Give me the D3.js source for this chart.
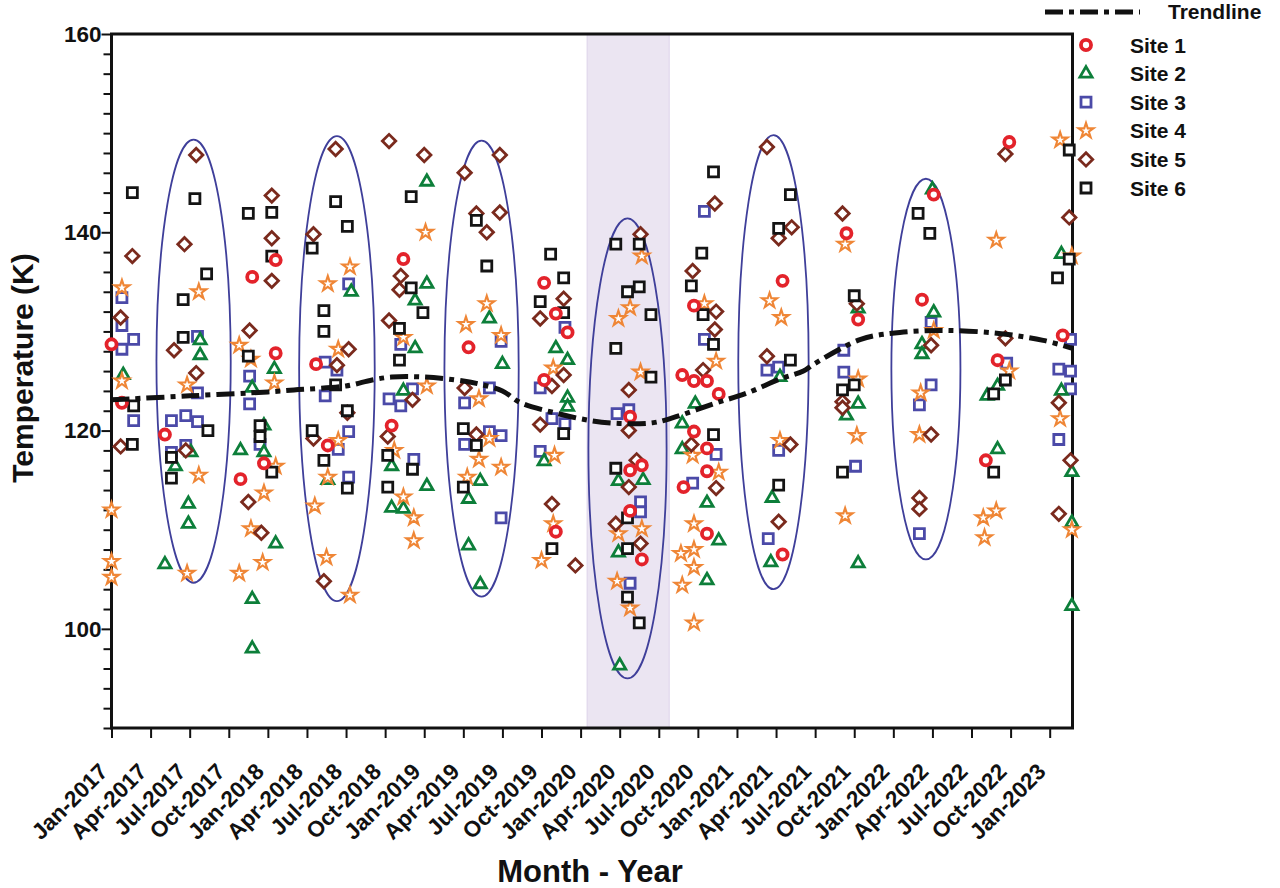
<!DOCTYPE html>
<html><head><meta charset="utf-8">
<script src="https://cdn.jsdelivr.net/npm/d3@7"></script>
<style>body{margin:0;background:#fff}svg{display:block;font-family:"Liberation Sans",Arial,sans-serif}</style>
</head><body><svg id="c" width="1280" height="888"></svg>
<script>
const tickLabels = ["Jan-2017","Apr-2017","Jul-2017","Oct-2017","Jan-2018","Apr-2018","Jul-2018","Oct-2018","Jan-2019","Apr-2019","Jul-2019","Oct-2019","Jan-2020","Apr-2020","Jul-2020","Oct-2020","Jan-2021","Apr-2021","Jul-2021","Oct-2021","Jan-2022","Apr-2022","Jul-2022","Oct-2022","Jan-2023"];
const yTickLabels = [100,120,140,160];
const seriesNames = ["Site 1","Site 2","Site 3","Site 4","Site 5","Site 6"];
// [month index since Jan-2017, temperature K]
const site1 = [[0,128.7],[0.8,122.8],[4.1,119.6],[9.9,115.1],[10.8,135.5],[11.7,116.7],[12.6,137.2],[12.6,127.8],[15.7,126.7],[16.6,118.5],[21.5,120.5],[22.4,137.3],[27.4,128.4],[33.2,134.9],[34.1,131.8],[35.0,129.9],[33.2,125.1],[34.1,109.8],[39.8,121.4],[39.8,116.0],[40.7,116.5],[39.8,111.9],[40.7,107.0],[43.8,125.6],[44.7,132.6],[44.7,125.0],[45.7,125.0],[46.6,123.7],[44.7,119.9],[45.7,118.2],[45.7,115.9],[43.9,114.3],[45.7,109.6],[51.5,135.1],[51.5,107.5],[56.4,139.9],[57.3,131.2],[62.2,133.2],[63.1,143.8],[67.1,117.0],[68.0,127.1],[68.9,149.1],[73.0,129.6]];
const site2 = [[0.9,125.6],[6.8,129.1],[6.8,127.6],[12.5,126.2],[10.8,124.3],[11.7,120.5],[6.1,117.8],[4.9,116.4],[9.9,118.0],[11.7,117.8],[5.9,112.6],[5.9,110.6],[12.6,108.6],[4.1,106.5],[10.8,103.0],[10.8,98.0],[18.4,134.0],[24.2,145.1],[24.2,134.8],[23.3,133.1],[29.0,131.3],[23.3,128.3],[22.4,124.0],[16.6,115.0],[21.5,116.4],[24.2,114.4],[21.5,112.2],[22.4,112.1],[28.3,114.9],[27.4,113.1],[27.4,108.4],[28.3,104.5],[30.0,126.7],[35.0,123.3],[35.0,122.4],[34.1,128.3],[35.0,127.1],[33.2,116.9],[38.9,114.9],[40.8,115.0],[38.9,107.7],[39.0,96.3],[44.8,122.7],[43.8,120.7],[43.8,118.1],[45.7,112.7],[46.6,108.9],[45.7,104.9],[51.3,125.4],[50.7,113.2],[50.6,106.7],[57.3,122.7],[56.4,121.5],[57.3,132.3],[57.3,106.6],[63.1,131.9],[62.2,128.7],[62.2,127.7],[63.0,144.3],[68.0,124.5],[67.2,123.5],[68.0,118.1],[72.9,137.8],[72.9,124.0],[73.7,115.8],[73.7,110.7],[73.7,102.3]];
const site3 = [[0.8,133.4],[0.8,130.6],[1.7,129.2],[0.8,128.2],[1.7,121.0],[6.6,129.5],[6.6,123.8],[4.6,121.0],[5.7,121.5],[6.6,120.9],[10.6,125.5],[10.6,122.7],[11.4,118.6],[5.7,118.5],[4.6,117.8],[18.2,134.8],[16.4,126.9],[17.3,126.1],[16.4,123.5],[18.2,119.9],[17.4,118.1],[18.2,115.3],[22.2,128.7],[23.1,124.2],[21.3,123.2],[22.2,122.5],[23.2,117.1],[27.1,122.8],[27.1,118.6],[29.9,129.0],[29.0,124.3],[29.0,119.9],[29.9,119.5],[29.9,111.2],[34.8,130.4],[32.9,124.3],[33.8,121.2],[34.8,120.7],[32.9,117.9],[38.8,121.7],[39.7,122.1],[40.6,112.8],[40.6,111.8],[39.8,104.6],[45.5,142.1],[45.5,129.2],[46.4,117.6],[44.6,114.7],[50.3,126.1],[51.2,126.4],[51.2,118.0],[50.4,109.1],[56.2,128.1],[56.2,125.9],[57.1,116.4],[62.9,130.9],[62.9,124.6],[62.0,122.6],[62.0,109.6],[68.7,126.8],[73.6,129.2],[72.7,126.2],[73.6,126.0],[73.6,124.2],[72.7,119.1]];
const site4 = [[0.8,134.4],[0.8,125.0],[0,112.0],[0,106.8],[0,105.2],[6.7,134.0],[5.8,124.6],[6.7,115.5],[5.8,105.6],[9.8,128.6],[10.7,127.2],[12.5,124.8],[12.6,116.4],[11.7,113.7],[10.7,110.1],[11.6,106.7],[9.8,105.6],[18.3,136.5],[16.6,134.8],[17.4,128.2],[17.4,119.0],[16.6,115.3],[15.6,112.4],[16.5,107.2],[18.3,103.4],[24.1,140.0],[22.4,129.4],[24.2,124.5],[21.7,118.0],[22.4,113.3],[23.2,111.2],[23.2,108.9],[28.8,132.8],[27.2,130.7],[29.9,129.6],[28.2,123.2],[28.2,117.1],[27.3,115.3],[29.0,119.2],[29.9,116.3],[33.9,126.3],[34.0,117.5],[33.9,110.6],[33.0,106.9],[40.7,137.6],[39.8,132.4],[38.9,131.3],[40.6,125.9],[38.9,109.6],[40.7,110.1],[38.8,104.8],[39.8,102.1],[43.7,107.6],[43.8,104.4],[45.5,132.8],[46.4,127.0],[44.6,117.5],[46.6,115.8],[44.7,110.6],[44.7,108.0],[44.7,106.2],[44.7,100.6],[50.5,133.1],[51.4,131.4],[51.3,119.0],[56.3,138.8],[57.3,125.2],[57.2,119.5],[56.3,111.4],[63.1,130.1],[62.1,123.8],[62.0,119.6],[67.9,139.2],[68.9,126.0],[67.9,111.9],[66.9,111.2],[67.0,109.2],[72.8,149.3],[73.7,137.6],[72.8,121.2],[73.7,110.0]];
const site5 = [[1.6,137.6],[0.7,131.4],[0.7,118.4],[6.5,147.8],[5.6,138.8],[4.8,128.1],[6.5,125.8],[5.7,118.0],[12.3,143.7],[12.3,139.4],[12.3,135.1],[10.6,130.1],[10.5,112.8],[11.5,109.7],[17.2,148.4],[15.5,139.8],[18.2,128.2],[17.3,126.6],[18.1,121.8],[15.5,119.2],[16.3,104.8],[21.3,149.2],[24.0,147.8],[22.2,135.6],[22.1,134.2],[21.3,131.1],[23.1,123.1],[21.2,119.4],[27.1,146.0],[28.0,141.9],[28.8,140.0],[29.8,147.8],[29.8,142.0],[27.1,124.3],[28.0,119.6],[34.7,133.3],[32.9,131.3],[34.7,125.6],[33.8,124.5],[32.9,120.6],[33.8,112.6],[35.6,106.4],[40.6,139.8],[39.7,124.1],[39.7,120.0],[40.3,117.0],[39.7,114.3],[38.7,110.6],[40.6,108.6],[44.6,136.1],[46.3,142.9],[46.4,132.0],[46.3,130.2],[45.4,126.1],[44.5,118.6],[46.4,114.2],[50.3,148.6],[51.2,139.4],[52.2,140.5],[50.3,127.5],[52.1,118.6],[51.2,110.8],[56.1,141.9],[57.2,132.8],[56.1,122.9],[56.1,122.3],[62.9,128.6],[62.9,119.6],[62.0,113.2],[62.0,112.1],[68.6,147.9],[68.6,129.3],[73.5,141.5],[72.7,122.8],[73.6,117.0],[72.7,111.6]];
const site6 = [[1.6,144.0],[1.7,122.5],[1.6,118.6],[6.4,143.4],[7.3,135.8],[5.5,133.2],[5.5,129.4],[7.4,120.0],[4.6,117.3],[4.6,115.2],[10.5,141.9],[12.3,142.0],[12.3,137.6],[10.5,127.5],[11.4,120.5],[11.4,119.4],[12.3,115.8],[17.2,143.1],[18.1,140.6],[15.4,138.4],[16.3,132.1],[16.3,130.0],[17.2,124.6],[18.1,122.0],[15.4,120.0],[16.3,117.0],[18.1,114.2],[23.0,143.6],[23.0,134.4],[23.9,131.9],[22.1,130.3],[22.1,127.1],[21.2,117.5],[23.1,116.1],[21.2,114.3],[28.0,141.2],[28.8,136.6],[27.0,120.2],[28.0,118.5],[27.0,114.3],[33.7,137.8],[34.7,135.4],[32.9,133.0],[34.7,131.9],[34.7,119.7],[33.8,108.1],[38.7,138.8],[40.5,138.8],[40.5,134.5],[39.6,134.0],[41.4,131.7],[38.7,128.3],[41.4,125.4],[38.7,116.2],[39.6,111.2],[39.6,108.1],[39.6,103.2],[40.5,100.6],[46.2,146.1],[45.3,137.9],[44.5,134.6],[45.4,131.7],[46.2,128.7],[46.2,119.6],[52.1,143.8],[51.2,140.4],[52.1,127.1],[51.2,114.5],[57.0,133.6],[57.0,124.6],[56.1,124.1],[56.1,115.8],[61.9,141.9],[62.8,139.9],[73.5,148.3],[73.5,137.3],[72.6,135.4],[68.6,125.1],[67.7,123.7],[67.7,115.8]];
const trendMonths = [0,6,12,14,18,20,21.5,24,27,28.2,30,31.4,34,36.8,39.3,41.6,43.1,46.2,48.8,51.3,53.1,53.9,57.5,60.5,64,68.1,71.5,73.75];
const trendValues = [123.1,123.5,123.9,124.1,124.5,125.1,125.4,125.4,125.0,124.7,124.0,122.8,121.8,121.0,120.7,120.8,121.3,122.7,123.8,125.2,126.0,126.7,129.2,129.9,130.1,129.8,129.1,128.3];
// ellipses: [center month, center K, half-width months, half-height K]
const ellipses = [[6.3,127.0,2.85,22.35],[17.3,126.25,2.9,23.45],[28.4,126.25,2.85,23.0],[39.6,118.2,3.0,23.2],[50.8,126.9,2.7,22.9],[62.5,126.2,2.65,19.2]];
const shadedPeriod = [36.5, 42.8];

const svg = d3.select("#c");
const x = d3.scaleLinear().domain([0, 73.75]).range([111.5, 1072.5]);
const y = d3.scaleLinear().domain([90, 160]).range([728, 34]);
const FONT = '"Liberation Sans",Arial,sans-serif';

// shaded period
svg.append("rect").attr("x", x(shadedPeriod[0])).attr("y", y(160)).attr("width", x(shadedPeriod[1]) - x(shadedPeriod[0])).attr("height", y(90) - y(160)).attr("fill", "#ebe5f2").attr("stroke", "#ddd3ea").attr("stroke-width", 1);

// ellipses
svg.append("g").selectAll("ellipse").data(ellipses).join("ellipse")
  .attr("cx", d => x(d[0])).attr("cy", d => y(d[1]))
  .attr("rx", d => x(d[2]) - x(0)).attr("ry", d => y(0) - y(d[3]))
  .attr("fill", "none").attr("stroke", "#3f3f9a").attr("stroke-width", 1.8);

// axes
const xAxis = svg.append("g").attr("transform", `translate(0,${y(90)})`)
  .call(d3.axisBottom(x).tickValues(d3.range(0, 73, 3)).tickFormat((d, i) => tickLabels[i]).tickSize(10).tickSizeOuter(0));
xAxis.select(".domain").remove();
xAxis.selectAll(".tick line").attr("stroke", "#111").attr("stroke-width", 2);
xAxis.selectAll(".tick text").attr("x", 0).attr("y", 0).attr("dy", 0)
  .attr("transform", "translate(-3,45) rotate(-45)").attr("text-anchor", "end")
  .attr("font-size", 22.5).attr("font-weight", "bold").attr("fill", "#111").attr("font-family", FONT);

const yAxis = svg.append("g").attr("transform", `translate(${x(0)},0)`)
  .call(d3.axisLeft(y).tickValues(d3.range(90, 161, 2)).tickFormat(d => yTickLabels.includes(d) ? d : "").tickSize(8).tickSizeOuter(0));
yAxis.select(".domain").remove();
yAxis.selectAll(".tick line").attr("stroke", "#111").attr("stroke-width", 2)
  .attr("x2", d => d % 20 === 0 ? -10 : -8);
yAxis.selectAll(".tick text").attr("x", -10).attr("font-size", 22.5).attr("font-weight", "bold").attr("fill", "#111").attr("font-family", FONT);

// frame
svg.append("rect").attr("x", x(0)).attr("y", y(160)).attr("width", x(73.75) - x(0)).attr("height", y(90) - y(160))
  .attr("fill", "none").attr("stroke", "#111").attr("stroke-width", 3);

// markers
const styles = [
  {data: site1, color: "#e3232b", type: "circle"},
  {data: site2, color: "#0d7f3a", type: "triangle"},
  {data: site3, color: "#4b4aa8", type: "square"},
  {data: site4, color: "#ef8636", type: "star"},
  {data: site5, color: "#7a2a1d", type: "diamond"},
  {data: site6, color: "#141414", type: "square"}
];
function symPath(type) {
  if (type === "circle") return d3.symbol(d3.symbolCircle, 80)();
  if (type === "triangle") return d3.symbol(d3.symbolTriangle, 64)();
  if (type === "square") return d3.symbol(d3.symbolSquare, 100)();
  if (type === "star") return d3.symbol(d3.symbolStar, 70)();
  if (type === "diamond") return d3.symbol(d3.symbolSquare, 90)();
}
function sw(type) { return type === "circle" ? 3.8 : type === "star" ? 2.1 : 2.8; }
function drawMarker(g, type, color, cx, cy) {
  g.append("path").attr("d", symPath(type))
    .attr("transform", `translate(${cx},${cy})` + (type === "diamond" ? " rotate(45)" : ""))
    .attr("fill", "#fff").attr("stroke", color).attr("stroke-width", sw(type)).attr("stroke-linejoin", "miter");
}
const drawOrder = [2, 1, 3, 4, 5, 0];
const pts = svg.append("g");
drawOrder.forEach(i => {
  const s = styles[i];
  s.data.forEach(d => drawMarker(pts, s.type, s.color, x(d[0]), y(d[1])));
});

// trendline
const trend = trendMonths.map((m, i) => [m, trendValues[i]]);
svg.append("path").datum(trend)
  .attr("d", d3.line().x(d => x(d[0])).y(d => y(d[1])).curve(d3.curveCatmullRom))
  .attr("fill", "none").attr("stroke", "#111").attr("stroke-width", 5).attr("stroke-dasharray", "18,6,5,6");

// axis titles
svg.append("text").attr("transform", "translate(33,368) rotate(-90)").attr("text-anchor", "middle")
  .attr("font-size", 30).attr("font-weight", "bold").attr("fill", "#111").text("Temperature (K)");
svg.append("text").attr("x", 590).attr("y", 882).attr("text-anchor", "middle")
  .attr("font-size", 31).attr("font-weight", "bold").attr("fill", "#111").text("Month - Year");

// legend
const lg = svg.append("g");
lg.append("line").attr("x1", 1045).attr("x2", 1140).attr("y1", 12).attr("y2", 12)
  .attr("stroke", "#111").attr("stroke-width", 5).attr("stroke-dasharray", "18,6,5,6");
lg.append("text").attr("x", 1168).attr("y", 19).attr("font-size", 21).attr("font-weight", "bold").attr("fill", "#111").text("Trendline");
seriesNames.forEach((n, i) => {
  const yy = 45 + i * 28.6;
  drawMarker(lg, styles[i].type, styles[i].color, 1086, yy);
  lg.append("text").attr("x", 1130).attr("y", yy + 7.5).attr("font-size", 21).attr("font-weight", "bold").attr("fill", "#111").text(n);
});
</script></body></html>
